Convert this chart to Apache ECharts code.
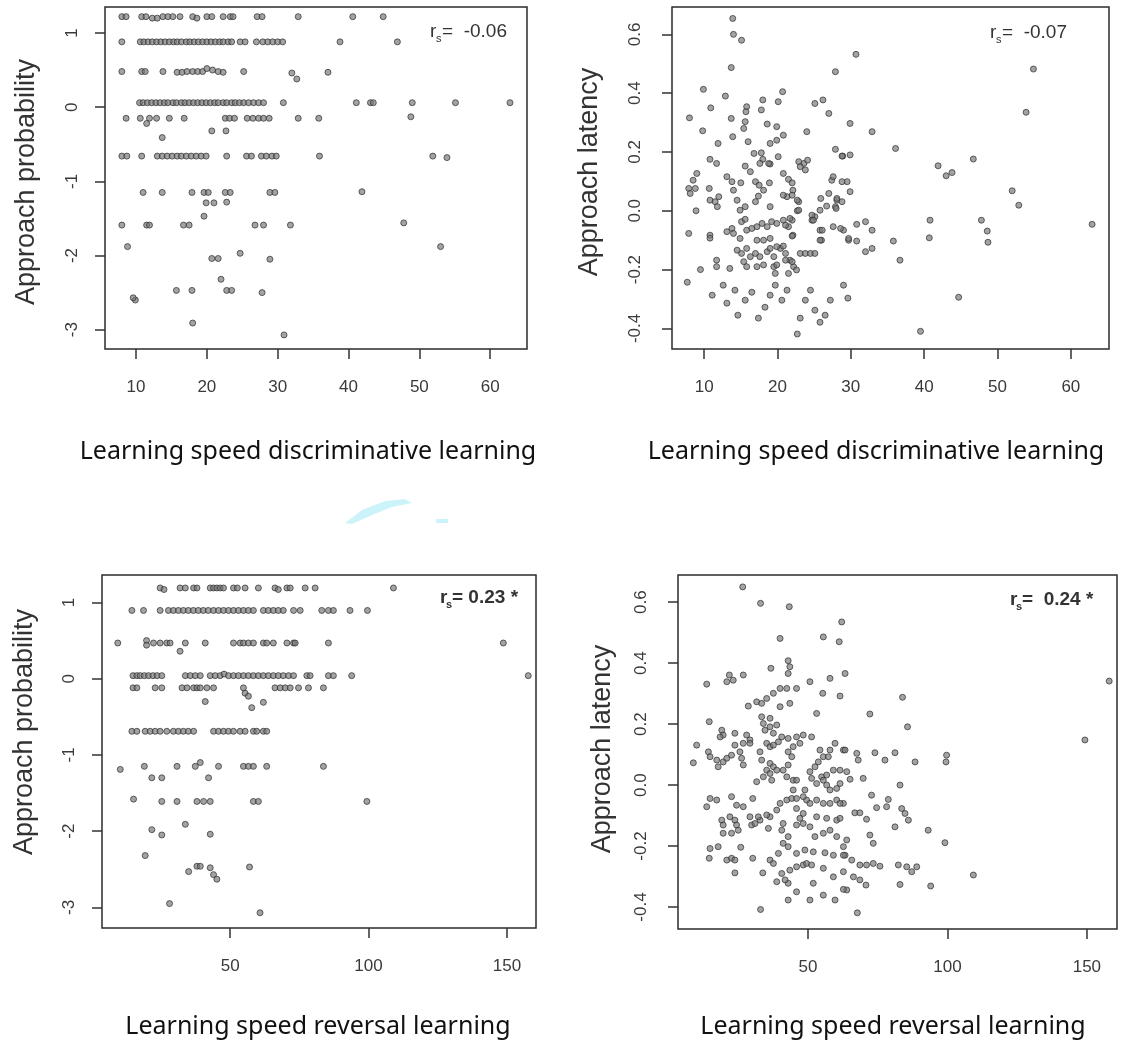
<!DOCTYPE html>
<html>
<head>
<meta charset="utf-8">
<script src="https://cdn.jsdelivr.net/npm/echarts@6/dist/echarts.min.js"></script>
<style>
  html, body { margin: 0; padding: 0; background: #fff; }
  #main { width: 1126px; height: 1042px; }
</style>
</head>
<body>
<div id="main"></div>
<script>
// tick labels
const discTicks = [10, 20, 30, 40, 50, 60]
const revTicks = [50, 100, 150]
const probTicks = [-3, -2, -1, 0, 1]
const latTicks = [-0.4, -0.2, 0, 0.2, 0.4, 0.6]

// learning speed discriminative learning vs approach probability
const discProb = [
  [8.0,1.22],[8.6,1.22],[10.8,1.22],[11.4,1.22],[12.3,1.2],[13.0,1.2],[13.8,1.22],[14.5,1.22],[15.2,1.22],[16.2,1.22],[18.0,1.22],[18.6,1.2],[20.0,1.22],[20.7,1.22],[22.3,1.22],[23.3,1.22],[23.7,1.22],[27.1,1.22],[27.8,1.22],[32.9,1.22],[40.6,1.22],[44.9,1.22],
  [8.0,0.88],[10.6,0.88],[11.1,0.88],[11.7,0.88],[12.3,0.88],[12.9,0.88],[13.5,0.88],[14.1,0.88],[14.7,0.88],[15.3,0.88],[15.8,0.88],[16.4,0.88],[17.1,0.88],[17.6,0.88],[18.2,0.88],[18.8,0.88],[19.4,0.88],[20.0,0.88],[20.6,0.88],[21.2,0.88],[21.8,0.88],[22.3,0.88],[23.0,0.88],[23.5,0.88],[24.7,0.88],[25.4,0.88],[27.0,0.88],[27.9,0.88],[28.6,0.88],[29.3,0.88],[30.0,0.88],[30.7,0.88],[38.8,0.88],[46.9,0.88],
  [8.0,0.48],[10.8,0.48],[11.3,0.48],[13.8,0.48],[15.8,0.47],[16.5,0.47],[17.2,0.48],[18.0,0.48],[18.7,0.48],[19.4,0.48],[20.0,0.52],[20.8,0.5],[21.6,0.48],[22.3,0.47],[25.2,0.48],[32.0,0.46],[32.7,0.38],[37.1,0.47],
  [10.5,0.06],[11.0,0.06],[11.6,0.06],[12.2,0.06],[12.8,0.06],[13.4,0.06],[14.0,0.06],[14.5,0.06],[15.2,0.06],[15.7,0.06],[16.4,0.06],[16.9,0.06],[17.5,0.06],[18.1,0.06],[18.7,0.06],[19.3,0.06],[19.9,0.06],[20.5,0.06],[21.1,0.06],[21.6,0.06],[22.3,0.06],[22.8,0.06],[23.5,0.06],[24.0,0.06],[24.6,0.06],[25.2,0.06],[25.9,0.06],[26.6,0.06],[27.3,0.06],[28.0,0.06],[30.8,0.06],[41.1,0.06],[43.1,0.06],[43.5,0.06],[49.0,0.06],[55.1,0.06],[62.8,0.06],
  [8.6,-0.15],[10.6,-0.15],[11.9,-0.15],[12.9,-0.15],[14.7,-0.15],[16.8,-0.15],[22.6,-0.15],[23.2,-0.15],[23.9,-0.15],[25.7,-0.15],[26.5,-0.15],[27.3,-0.15],[28.0,-0.15],[28.8,-0.15],[32.9,-0.15],[35.8,-0.15],[48.8,-0.13],[11.5,-0.22],
  [20.7,-0.32],[22.7,-0.32],[13.7,-0.41],
  [8.0,-0.66],[8.7,-0.66],[10.8,-0.66],[13.0,-0.66],[13.7,-0.66],[14.4,-0.66],[15.1,-0.66],[15.8,-0.66],[16.4,-0.66],[17.1,-0.66],[17.8,-0.66],[18.5,-0.66],[19.2,-0.66],[19.9,-0.66],[22.8,-0.66],[25.6,-0.66],[26.3,-0.66],[27.7,-0.66],[28.4,-0.66],[29.2,-0.66],[29.8,-0.66],[35.9,-0.66],[51.9,-0.66],[53.9,-0.68],
  [11.0,-1.15],[13.7,-1.15],[17.9,-1.15],[19.6,-1.15],[20.2,-1.15],[22.6,-1.15],[23.3,-1.15],[28.9,-1.15],[29.6,-1.15],[41.9,-1.14],[19.9,-1.29],[21.0,-1.29],[22.8,-1.28],[19.6,-1.47],
  [8.0,-1.59],[11.5,-1.59],[11.9,-1.59],[16.7,-1.59],[17.5,-1.59],[26.8,-1.59],[28.0,-1.59],[31.8,-1.59],[47.8,-1.56],
  [8.8,-1.88],[20.7,-2.04],[21.6,-2.04],[24.7,-1.97],[28.9,-2.05],[53.0,-1.88],[22.0,-2.32],
  [15.7,-2.47],[17.9,-2.47],[22.8,-2.47],[23.5,-2.47],[27.8,-2.5],[9.9,-2.6],[9.6,-2.57],[18.0,-2.91],[30.9,-3.07]
]

// learning speed discriminative learning vs approach latency
const discLat = [
  [13.9,0.654],[14.0,0.60],[15.1,0.58],[13.7,0.487],[9.9,0.413],[12.9,0.39],[8.0,0.316],[10.9,0.35],[9.8,0.272],[13.7,0.314],[13.9,0.252],[15.8,0.354],[15.7,0.337],[18.0,0.377],[17.8,0.343],[20.1,0.371],[20.7,0.405],[18.6,0.295],[19.9,0.286],[15.6,0.303],[15.4,0.28],[16.0,0.235],[19.0,0.229],[19.9,0.24],[20.8,0.257],[24.0,0.269],[25.1,0.365],[26.2,0.377],[27.0,0.331],[27.9,0.473],
  [11.9,0.229],[10.8,0.175],[11.7,0.161],[13.1,0.116],[9.0,0.127],[8.5,0.104],[7.9,0.076],[8.1,0.059],[8.8,0.076],[8.9,0.0],[10.7,0.076],[10.8,0.036],[11.5,0.031],[11.8,0.014],[12.0,0.048],[13.8,0.099],[14.0,0.07],[15.0,0.095],[15.6,0.152],[16.3,0.133],[17.0,0.099],[17.5,0.087],[18.1,0.07],[18.9,0.095],[16.8,0.195],[17.8,0.197],[18.0,0.175],[19.0,0.159],[20.1,0.184],
  [14.5,0.036],[14.9,0.002],[15.6,0.014],[17.0,0.031],[17.4,0.05],[19.0,0.014],[20.8,0.127],[21.5,0.107],[22.0,0.095],[22.9,0.167],[23.6,0.161],[24.1,0.172],[23.1,0.15],[23.8,0.139],[21.3,0.048],[22.1,0.07],[22.9,0.031],[22.7,0.0],[25.9,0.042],[27.4,0.104],[27.0,0.059],[27.9,0.014],[28.1,0.036],[28.9,0.186],[27.9,0.209],[29.5,0.099],
  [7.9,-0.077],[10.8,-0.083],[10.8,-0.093],[13.1,-0.071],[13.8,-0.06],[14.0,-0.077],[11.7,-0.168],[15.1,-0.037],[15.6,-0.029],[15.8,-0.066],[16.5,-0.06],[17.2,-0.054],[17.9,-0.043],[18.6,-0.054],[19.2,-0.037],[19.9,-0.043],[14.9,-0.094],[17.2,-0.1],[18.1,-0.1],[19.0,-0.094],[20.8,-0.032],[21.5,-0.054],[22.0,-0.032],[22.1,-0.083],[24.7,-0.032],[25.1,-0.02],[25.8,-0.066],[26.0,-0.1],[27.6,-0.054],[29.0,-0.066],[29.7,-0.1],
  [14.5,-0.134],[15.1,-0.145],[15.8,-0.128],[16.3,-0.156],[17.0,-0.145],[17.6,-0.156],[18.6,-0.139],[19.0,-0.128],[19.5,-0.156],[20.4,-0.128],[21.1,-0.145],[23.1,-0.145],[23.8,-0.145],[24.5,-0.145],[25.1,-0.145],[21.7,-0.168],[22.2,-0.19],[22.6,-0.201],[21.5,-0.213],[19.5,-0.19],[19.7,-0.213],[11.7,-0.19],[13.5,-0.196],[15.4,-0.173],[15.8,-0.19],[17.2,-0.19],[18.1,-0.184],
  [32.9,0.269],[36.1,0.212],[28.8,0.186],[29.9,0.19],[17.6,0.161],[18.8,0.161],[29.9,0.065],[30.8,-0.046],[32.0,-0.037],[32.9,-0.066],[35.8,-0.103],[36.7,-0.168],[29.7,-0.094],[30.8,-0.103],[32.0,-0.139],[32.9,-0.128],[28.6,-0.06],[27.6,0.116],[28.8,0.099],[28.1,0.042],[28.8,0.031],[28.0,0.008],[25.8,0.002],[26.7,0.016],[24.7,-0.015],[24.9,-0.032],[26.1,-0.066],[25.8,-0.1],[22.0,-0.086],[21.7,-0.026],[21.1,-0.049],[22.9,0.002],[22.7,0.036],[22.0,0.053],[20.8,0.053],[22.0,-0.173],[19.9,-0.184],[21.1,-0.168],[19.9,-0.122],[20.8,-0.12],
  [30.7,0.532],[54.9,0.482],[53.9,0.335],[29.9,0.297],[41.9,0.153],[43.0,0.119],[43.8,0.13],[46.7,0.176],[52.0,0.068],[52.9,0.019],[62.9,-0.046],[40.8,-0.032],[40.7,-0.092],[47.8,-0.032],[48.6,-0.069],[48.7,-0.107],
  [7.7,-0.243],[9.5,-0.2],[11.1,-0.287],[12.6,-0.253],[13.1,-0.314],[14.2,-0.27],[14.6,-0.355],[15.6,-0.304],[16.5,-0.277],[17.4,-0.365],[18.3,-0.328],[19.0,-0.287],[19.7,-0.253],[20.6,-0.304],[21.3,-0.27],[22.7,-0.419],[23.1,-0.365],[23.8,-0.304],[24.5,-0.27],[25.1,-0.338],[25.8,-0.379],[26.5,-0.355],[27.2,-0.304],[29.0,-0.253],[29.6,-0.297],[44.7,-0.294],[39.5,-0.41]
]

// learning speed reversal learning vs approach probability
const revProb = [
  [24.7,1.19],[26.1,1.17],[31.9,1.19],[33.8,1.19],[36.8,1.19],[38.0,1.19],[42.8,1.19],[44.0,1.19],[45.2,1.19],[46.4,1.19],[47.6,1.19],[51.2,1.19],[52.6,1.19],[55.4,1.19],[60.2,1.19],[66.2,1.19],[67.4,1.17],[70.5,1.19],[71.7,1.19],[77.1,1.19],[80.7,1.19],[109.0,1.19],
  [14.5,0.895],[18.7,0.895],[24.7,0.895],[27.7,0.895],[29.5,0.895],[31.3,0.895],[33.1,0.895],[34.9,0.895],[36.7,0.895],[38.5,0.895],[40.3,0.895],[42.1,0.895],[44.0,0.895],[45.8,0.895],[47.6,0.895],[49.4,0.895],[51.2,0.895],[53.0,0.895],[54.8,0.895],[56.6,0.895],[58.4,0.895],[62.0,0.895],[63.8,0.895],[65.6,0.895],[67.4,0.895],[69.2,0.895],[72.9,0.895],[75.3,0.895],[83.1,0.895],[85.5,0.895],[87.3,0.895],[93.3,0.895],[99.6,0.895],
  [9.4,0.468],[19.8,0.5],[19.8,0.44],[22.3,0.468],[24.7,0.468],[27.1,0.468],[28.3,0.468],[31.9,0.36],[33.8,0.468],[41.0,0.468],[51.2,0.468],[53.6,0.468],[54.8,0.468],[56.6,0.468],[58.4,0.468],[62.0,0.468],[63.2,0.468],[65.6,0.468],[70.5,0.468],[72.9,0.468],[73.5,0.468],[85.5,0.468],[148.7,0.468],
  [14.9,0.04],[16.3,0.04],[17.5,0.04],[19.0,0.04],[20.5,0.04],[22.1,0.04],[23.6,0.04],[25.3,0.04],[33.8,0.04],[35.6,0.04],[37.4,0.04],[39.2,0.04],[42.8,0.04],[44.6,0.04],[46.4,0.04],[47.8,0.06],[49.4,0.04],[51.2,0.04],[53.0,0.04],[54.8,0.04],[56.6,0.04],[58.4,0.04],[60.2,0.04],[62.0,0.04],[63.8,0.04],[65.6,0.04],[67.4,0.04],[69.2,0.04],[71.1,0.04],[72.9,0.04],[77.7,0.04],[78.9,0.04],[85.5,0.04],[87.3,0.04],[93.9,0.04],[157.7,0.04],
  [14.9,-0.12],[16.3,-0.12],[22.9,-0.12],[25.3,-0.12],[32.6,-0.12],[34.4,-0.12],[36.8,-0.12],[38.0,-0.12],[39.2,-0.12],[41.6,-0.12],[44.0,-0.12],[54.8,-0.12],[66.2,-0.12],[68.1,-0.12],[69.9,-0.12],[71.7,-0.12],[74.7,-0.12],[78.3,-0.12],[83.7,-0.12],
  [41.0,-0.30],[57.8,-0.38],[62.0,-0.31],[55.4,-0.19],[56.6,-0.23],
  [14.5,-0.69],[16.3,-0.69],[19.3,-0.69],[21.1,-0.69],[22.9,-0.69],[24.7,-0.69],[27.1,-0.69],[29.5,-0.69],[31.3,-0.69],[33.1,-0.69],[34.9,-0.69],[36.8,-0.69],[44.0,-0.69],[45.8,-0.69],[47.6,-0.69],[49.4,-0.69],[51.2,-0.69],[53.6,-0.69],[55.4,-0.69],[58.4,-0.69],[59.6,-0.69],[62.0,-0.69],[63.2,-0.69],
  [10.3,-1.19],[19.0,-1.15],[21.7,-1.3],[25.3,-1.3],[30.8,-1.15],[37.4,-1.15],[39.2,-1.1],[42.2,-1.3],[45.8,-1.15],[54.8,-1.15],[56.6,-1.15],[58.4,-1.15],[63.2,-1.15],[83.7,-1.15],
  [15.1,-1.58],[25.3,-1.61],[30.8,-1.61],[38.0,-1.61],[40.4,-1.61],[42.8,-1.61],[58.4,-1.61],[60.2,-1.61],[99.4,-1.61],
  [33.8,-1.91],[25.3,-2.05],[21.7,-1.98],[42.8,-2.04],[19.3,-2.32],[35.0,-2.53],[38.0,-2.46],[39.2,-2.46],[42.8,-2.48],[44.0,-2.57],[45.2,-2.63],[57.0,-2.47],[28.1,-2.95],[60.8,-3.07]
]

// learning speed reversal learning vs approach latency
const revLat = [
  [26.6,0.65],[33.0,0.596],[43.3,0.585],[62.1,0.535],[40.0,0.481],[55.5,0.486],[61.2,0.47],[36.7,0.383],[42.9,0.408],[43.5,0.388],[42.9,0.366],[26.8,0.361],[21.8,0.361],[20.9,0.339],[23.2,0.344],[13.7,0.331],[57.9,0.35],[63.3,0.366],[50.7,0.339],
  [28.6,0.259],[31.6,0.273],[33.4,0.268],[35.2,0.284],[37.6,0.301],[40.0,0.317],[42.4,0.317],[45.9,0.317],[40.0,0.257],[43.5,0.268],[55.3,0.301],[61.5,0.292],[53.1,0.235],[14.6,0.208],
  [33.4,0.224],[34.0,0.202],[34.6,0.18],[36.4,0.191],[36.4,0.219],[37.6,0.17],[38.8,0.197],[19.1,0.18],[19.6,0.164],[18.5,0.158],[23.8,0.17],[28.0,0.164],[29.2,0.148],[10.1,0.131],[8.9,0.073],[14.3,0.109],[14.9,0.093],
  [17.3,0.082],[17.8,0.06],[19.6,0.076],[20.9,0.088],[22.6,0.098],[23.8,0.131],[25.6,0.109],[26.8,0.137],[29.2,0.137],[26.2,0.088],[26.8,0.066],[32.8,0.109],[35.2,0.137],[36.4,0.126],[37.6,0.131],[39.4,0.142],[40.6,0.158],
  [42.9,0.153],[45.9,0.158],[48.3,0.164],[47.1,0.137],[44.7,0.126],[42.9,0.109],[44.2,0.093],[51.3,0.158],[33.4,0.082],[35.2,0.049],[36.4,0.071],[37.6,0.06],[38.8,0.049],[31.6,0.011],[34.0,0.027],[36.4,0.038],[37.0,0.016],
  [41.1,0.049],[42.9,0.066],[44.7,0.016],[45.9,0.016],[42.4,0.027],[50.7,0.044],[52.5,0.06],[53.7,0.076],[55.5,0.093],[57.3,0.093],[54.3,0.115],[57.9,0.115],[59.7,0.137],[62.7,0.115],
  [51.3,0.022],[53.1,0.005],[54.9,0.027],[56.7,0.033],[59.1,0.049],[61.5,0.005],[63.9,0.044],
  [13.7,-0.071],[14.9,-0.044],[17.3,-0.049],[22.6,-0.038],[24.4,-0.066],[26.8,-0.071],[30.2,-0.044],[23.8,-0.115],[24.4,-0.131],[25.0,-0.148],[29.8,-0.131],[31.0,-0.126],[32.8,-0.115],
  [36.4,-0.104],[38.8,-0.082],[40.0,-0.06],[42.4,-0.049],[44.2,-0.044],[45.9,-0.077],[35.8,-0.142],[40.6,-0.148],[41.1,-0.126],[45.9,-0.131],[47.1,-0.109],[48.3,-0.093],[49.5,-0.049],[50.7,-0.06],
  [53.1,-0.049],[55.5,-0.06],[57.9,-0.06],[60.3,-0.049],[62.7,-0.06],[53.1,-0.104],[56.7,-0.109],[60.3,-0.115],[60.3,-0.169],[62.7,-0.202],[63.3,-0.23],
  [14.9,-0.208],[17.8,-0.202],[14.6,-0.24],[20.9,-0.246],[22.6,-0.24],[23.8,-0.246],[25.9,-0.204],[30.2,-0.24],[23.8,-0.288],[33.8,-0.288],
  [42.9,-0.202],[45.9,-0.224],[48.9,-0.213],[51.9,-0.219],[56.1,-0.222],[59.1,-0.23],[40.6,-0.29],[43.5,-0.279],[45.9,-0.268],[48.3,-0.262],[49.5,-0.257],[51.3,-0.262],[55.5,-0.273],[59.1,-0.301],[62.7,-0.284],
  [42.9,-0.322],[45.9,-0.35],[51.9,-0.322],[42.9,-0.377],[50.7,-0.377],[55.5,-0.361],[59.7,-0.377],[63.9,-0.344],[33.0,-0.408],
  [19.1,-0.115],[22.0,-0.104],[19.6,-0.131],[19.6,-0.158],[22.6,-0.158],[29.2,-0.104],[32.2,-0.104],[35.2,-0.098],
  [44.7,-0.016],[45.9,-0.044],[48.3,-0.038],[48.9,-0.016],[55.5,0.016],[56.7,0.0],[57.9,-0.016],[60.3,-0.011],
  [48.3,-0.126],[50.7,-0.137],[52.5,-0.169],[55.5,-0.158],[57.9,-0.148],[42.9,-0.169],[41.1,-0.191],[39.4,-0.224],[36.4,-0.246],[37.6,-0.257],[38.8,-0.317],[41.8,-0.311],
  [83.9,0.288],[72.2,0.233],[85.7,0.191],[149.3,0.148],[158.0,0.341],
  [63.3,0.115],[67.5,0.104],[68.0,0.082],[74.0,0.106],[77.6,0.082],[81.2,0.106],[88.4,0.076],[99.5,0.076],[99.7,0.098],
  [61.5,0.049],[65.1,0.019],[69.8,0.022],[83.0,0.0],
  [72.8,-0.033],[78.8,-0.047],[74.6,-0.074],[78.2,-0.071],[83.6,-0.077],[84.8,-0.093],[86.0,-0.115],[66.8,-0.091],[68.6,-0.091],[71.0,-0.112],[81.2,-0.137],[61.5,-0.06],[61.5,-0.109],
  [72.2,-0.164],[73.4,-0.191],[63.9,-0.18],[93.1,-0.148],[99.1,-0.189],
  [62.7,-0.23],[65.7,-0.246],[68.6,-0.262],[71.0,-0.262],[73.4,-0.257],[75.8,-0.266],[82.4,-0.262],[85.4,-0.268],[87.2,-0.284],[89.0,-0.268],[109.3,-0.295],
  [62.7,-0.342],[66.3,-0.301],[68.6,-0.311],[70.8,-0.328],[83.0,-0.326],[94.0,-0.331],[67.7,-0.419]
]

const panels = [
  { data: discProb, xTicks: discTicks, yTicks: probTicks, box: [105, 7, 422, 342], xr: [5.62, 65.2], yr: [-3.26, 1.35] },
  { data: discLat, xTicks: discTicks, yTicks: latTicks, box: [672, 7, 437, 342], xr: [5.62, 65.2], yr: [-0.47, 0.693] },
  { data: revProb, xTicks: revTicks, yTicks: probTicks, box: [102, 575, 434, 353], xr: [3.7, 160.5], yr: [-3.27, 1.36] },
  { data: revLat, xTicks: revTicks, yTicks: latTicks, box: [678, 575, 439, 354], xr: [3.4, 160.8], yr: [-0.472, 0.689] }
]

const tickFont = { fontFamily: 'Liberation Sans', fontSize: 17, color: '#3a3a3a' }
const chart = echarts.init(document.getElementById('main'))

const grids = [], xAxes = [], yAxes = [], series = []
panels.forEach((p, i) => {
  grids.push({ left: p.box[0], top: p.box[1], width: p.box[2], height: p.box[3], show: true, borderColor: '#2b2b2b', borderWidth: 1.5, containLabel: false })
  xAxes.push({
    type: 'value', gridIndex: i, min: p.xr[0], max: p.xr[1],
    axisLine: { show: false, onZero: false },
    axisTick: { show: true, length: 10, inside: false, lineStyle: { color: '#333', width: 1.5 }, customValues: p.xTicks },
    axisLabel: Object.assign({ margin: 30, customValues: p.xTicks }, tickFont),
    splitLine: { show: false }
  })
  const lat = p.yTicks === latTicks
  yAxes.push({
    type: 'value', gridIndex: i, min: p.yr[0], max: p.yr[1],
    axisLine: { show: false, onZero: false },
    axisTick: { show: true, length: 10, lineStyle: { color: '#333', width: 1.5 }, customValues: p.yTicks },
    axisLabel: Object.assign({ margin: lat ? 28 : 24, rotate: 90, customValues: p.yTicks,
      formatter: v => lat ? v.toFixed(1) : String(v) }, tickFont),
    splitLine: { show: false }
  })
  series.push({
    type: 'scatter', xAxisIndex: i, yAxisIndex: i, data: p.data,
    symbol: 'circle', symbolSize: 6,
    itemStyle: { color: 'rgba(120,120,120,0.85)', borderColor: '#2e2e2e', borderWidth: 0.9 },
    emphasis: { disabled: true }
  })
})

const yTitle = (x, y, text) => ({
  type: 'text', x: x, y: y, rotation: Math.PI / 2,
  style: { text: text, fontFamily: 'Liberation Sans', fontSize: 27, fill: '#333', textAlign: 'center', textVerticalAlign: 'middle' }
})
const xTitle = (x, y, text) => ({
  type: 'text', x: x, y: y,
  style: { text: text, fontFamily: 'Noto Sans', fontSize: 25, fill: '#111', textAlign: 'center', textVerticalAlign: 'middle' }
})
// r_s annotation with subscript
const rs = (x, y, value, bold) => {
  const w = bold ? 'bold' : 'normal'
  return [
    { type: 'text', x: x, y: y, style: { text: 'r', fontFamily: 'Liberation Sans', fontSize: 19, fontWeight: w, fill: '#333', textVerticalAlign: 'middle' } },
    { type: 'text', x: x + 6, y: y + 7, style: { text: 's', fontFamily: 'Liberation Sans', fontSize: 11, fontWeight: w, fill: '#333', textVerticalAlign: 'middle' } },
    { type: 'text', x: x + 12, y: y, style: { text: value, fontFamily: 'Liberation Sans', fontSize: 19, fontWeight: w, fill: '#333', textVerticalAlign: 'middle' } }
  ]
}

chart.setOption({
  animation: false,
  grid: grids,
  xAxis: xAxes,
  yAxis: yAxes,
  series: series,
  graphic: [
    yTitle(27, 182, 'Approach probability'),
    yTitle(590, 172, 'Approach latency'),
    yTitle(25, 732, 'Approach probability'),
    yTitle(603, 749, 'Approach latency'),
    xTitle(308, 452, 'Learning speed discriminative learning'),
    xTitle(876, 452, 'Learning speed discriminative learning'),
    xTitle(318, 1027, 'Learning speed reversal learning'),
    xTitle(893, 1027, 'Learning speed reversal learning'),
    ...rs(430, 32, '=  -0.06', false),
    ...rs(990, 33, '=  -0.07', false),
    ...rs(440, 598, '= 0.23 *', true),
    ...rs(1010, 600, '=  0.24 *', true),
    { type: 'polygon', shape: { points: [[345, 523], [362, 510], [385, 501], [405, 499], [412, 503], [392, 507], [372, 515], [352, 524]] },
      style: { fill: 'rgba(170,235,245,0.6)' } },
    { type: 'rect', shape: { x: 436, y: 519, width: 12, height: 4 }, style: { fill: 'rgba(170,235,245,0.6)' } }
  ]
})

window.addEventListener('resize', () => chart.resize())
</script>
</body>
</html>
